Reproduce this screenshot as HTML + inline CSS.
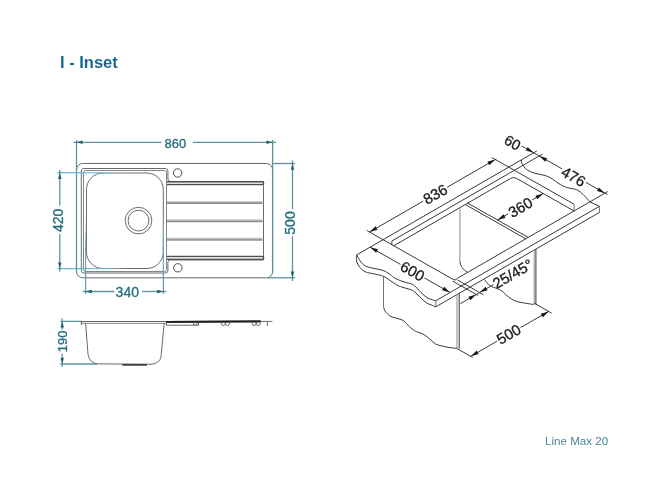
<!DOCTYPE html>
<html><head><meta charset="utf-8"><style>
html,body{margin:0;padding:0;background:#fff;}
body{width:650px;height:500px;overflow:hidden;position:relative;font-family:"Liberation Sans",sans-serif;}
svg{position:absolute;left:0;top:0;will-change:transform;}
.k{stroke:#383838;stroke-width:1;fill:none;}
.k2{stroke:#777;stroke-width:0.8;fill:none;}
.k3{stroke:#707070;stroke-width:1;fill:none;}
.k4{stroke:#a0a0a0;stroke-width:1.2;fill:none;}
.ka{fill:#1a1a1a;stroke:none;}
.g{stroke:#6a6a6a;stroke-width:1;fill:none;}
.g2{stroke:#858585;stroke-width:1;fill:none;}
.gd{stroke:#4a4a4a;stroke-width:1;fill:none;}
.bandl{stroke:#5e5e5e;stroke-width:1.3;fill:none;}
.groove{stroke:#6a6a6a;stroke-width:1.7;fill:none;}
.thick{stroke:#333;stroke-width:1.6;fill:none;}
.sec{stroke:#1e1e1e;stroke-width:1.7;fill:none;}
.b{stroke:#5c939c;stroke-width:1.3;fill:none;}
.bl{stroke:#5fb6d3;stroke-width:1;fill:none;}
.ba{fill:#1b6272;stroke:none;}
.bt{fill:#236b7d;stroke:#236b7d;stroke-width:0.3;}
.kt{fill:#1a1a1a;stroke:#1a1a1a;stroke-width:0.3;}
.title{position:absolute;left:60px;top:53px;font-size:16.5px;font-weight:bold;color:#1b6892;white-space:nowrap;will-change:transform;}
.foot{position:absolute;left:544.5px;top:434px;font-size:11.6px;color:#4a8797;white-space:nowrap;will-change:transform;}
</style></head><body>
<div class="title">I - Inset</div>
<svg width="650" height="500" viewBox="0 0 650 500">
<defs><linearGradient id="gh" x1="0" x2="1" y1="0" y2="0"><stop offset="0" stop-color="#4aa3c4"/><stop offset="0.6" stop-color="#6bbcd8"/><stop offset="1" stop-color="#bfe4f0" stop-opacity="0"/></linearGradient><linearGradient id="gv" x1="0" x2="0" y1="1" y2="0"><stop offset="0" stop-color="#4a8f9e"/><stop offset="0.6" stop-color="#62a9bd"/><stop offset="1" stop-color="#bfe4f0" stop-opacity="0"/></linearGradient><linearGradient id="gg" x1="0" x2="0" y1="0" y2="1"><stop offset="0" stop-color="#d8d8d8"/><stop offset="0.5" stop-color="#a8a8a8"/><stop offset="1" stop-color="#7a7a7a"/></linearGradient></defs>
<rect class="g" x="76.5" y="163.5" width="196.1" height="114.3" rx="6.2"/>
<path class="g" d="M81.3,171.0 L81.3,270.5 Q81.3,273 83.8,273 L165.4,273 Q167.9,273 167.9,270.5 L167.9,262.5 Q167.9,260 170.4,260 L263.5,260 L263.5,181.5 L170.4,181.5 Q167.9,181.5 167.9,179.0 L167.9,171.0 Q167.9,168.5 165.4,168.5 L83.8,168.5 Q81.3,168.5 81.3,171.0 Z"/>
<path class="g2" d="M83.5,172.5 L83.5,269.5 Q83.5,271.5 85.5,271.5 L164.5,271.5 Q166.5,271.5 166.5,269.5 L166.5,172.5 Q166.5,170.5 164.5,170.5 L85.5,170.5 Q83.5,170.5 83.5,172.5 Z"/>
<path d="M167,181.7 H262.2 A1.45,1.45 0 0 1 262.2,184.6 H167" fill="#e2e2e2" stroke="#4e4e4e" stroke-width="1.4"/>
<path d="M167,256.4 H262.2 A1.5,1.5 0 0 1 262.2,259.4 H167" fill="#e2e2e2" stroke="#4e4e4e" stroke-width="1.4"/>
<rect x="167" y="201" width="95.5" height="3" fill="url(#gg)"/>
<rect x="167" y="219.2" width="95.5" height="3" fill="url(#gg)"/>
<rect x="167" y="237.6" width="95.5" height="3" fill="url(#gg)"/>
<rect class="g" x="86.5" y="173" width="76.8" height="95.5" rx="16.5"/>
<circle class="g" cx="138.5" cy="220.6" r="13.3"/>
<circle class="g" cx="138.5" cy="220.6" r="10.4"/>
<circle class="gd" cx="177.6" cy="173" r="4.2"/>
<circle class="gd" cx="177.8" cy="267.8" r="4.2"/>
<line class="b" x1="76.5" y1="140" x2="76.5" y2="271.6"/>
<line class="b" x1="272.6" y1="140" x2="272.6" y2="271.6"/>
<line class="b" x1="73.5" y1="142.3" x2="161.5" y2="142.3"/>
<line class="b" x1="192.8" y1="142.3" x2="276" y2="142.3"/>
<polygon class="ba" points="76.5,142.3 82.7,140.55 82.7,144.05"/>
<polygon class="ba" points="272.6,142.3 266.4,144.05 266.4,140.55"/>
<line class="b" x1="272.6" y1="163.5" x2="295" y2="163.5"/>
<line class="b" x1="267" y1="277.8" x2="295" y2="277.8"/>
<line class="b" x1="292.5" y1="160.5" x2="292.5" y2="209.2"/>
<line class="b" x1="292.5" y1="236.2" x2="292.5" y2="281"/>
<polygon class="ba" points="292.5,163.5 294.25,169.7 290.75,169.7"/>
<polygon class="ba" points="292.5,277.8 290.75,271.6 294.25,271.6"/>
<rect x="57.4" y="172.2" width="70" height="1.1" fill="url(#gh)"/>
<rect x="57.4" y="268.1" width="70" height="1.1" fill="url(#gh)"/>
<line class="b" x1="59.8" y1="170" x2="59.8" y2="205.4"/>
<line class="b" x1="59.8" y1="234" x2="59.8" y2="271.5"/>
<polygon class="ba" points="59.8,172.7 61.55,178.9 58.05,178.9"/>
<polygon class="ba" points="59.8,268.6 58.05,262.4 61.55,262.4"/>
<rect x="85.1" y="212" width="1.1" height="82" fill="url(#gv)"/>
<rect x="162.8" y="214" width="1.1" height="80" fill="url(#gv)"/>
<line class="b" x1="82.7" y1="291.5" x2="114.4" y2="291.5"/>
<line class="b" x1="142.1" y1="291.5" x2="166.5" y2="291.5"/>
<polygon class="ba" points="85.6,291.5 91.8,289.75 91.8,293.25"/>
<polygon class="ba" points="163.3,291.5 157.1,293.25 157.1,289.75"/>
<line class="b" x1="60.4" y1="321.4" x2="82" y2="321.4"/>
<line class="b" x1="60.4" y1="364" x2="97" y2="364"/>
<line class="b" x1="62.2" y1="318.5" x2="62.2" y2="329.7"/>
<line class="b" x1="62.2" y1="353.7" x2="62.2" y2="367"/>
<polygon class="ba" points="62.2,321.4 63.95,327.6 60.45,327.6"/>
<polygon class="ba" points="62.2,364 60.45,357.8 63.95,357.8"/>
<line class="g" x1="80.7" y1="321.5" x2="167" y2="321.5"/>
<line class="g2" x1="82" y1="323.3" x2="166" y2="323.3"/>
<line class="g" x1="81.4" y1="321.4" x2="81.4" y2="325.2"/>
<path class="g" d="M85.6,323 L88,354.3 Q89.5,363.5 98,363.9 L152,364.2 Q159.8,363.2 161,356.8 L164.2,323"/>
<line class="thick" x1="122.3" y1="364.9" x2="147" y2="364.9"/>
<line class="sec" x1="166.6" y1="321.8" x2="260.6" y2="321.4"/>
<line class="g" x1="260.6" y1="321.4" x2="272.4" y2="321.4"/>
<polyline class="g" points="166.5,321.8 166.5,325.2 198.5,325.2 198.5,322.3"/>
<line class="g" x1="267.4" y1="322" x2="267.4" y2="326"/>
<path class="g" d="M193.3,322.4 q0,3.1 1.9,3.1 q1.9,0 1.9,-3.1"/>
<ellipse class="g" cx="223.3" cy="323.4" rx="2" ry="2.1"/>
<ellipse class="g" cx="227.5" cy="323.4" rx="2" ry="2.1"/>
<ellipse class="g" cx="254.1" cy="323.4" rx="2" ry="2.1"/>
<ellipse class="g" cx="258.3" cy="323.4" rx="2" ry="2.1"/>
<line class="sec" x1="166.6" y1="321.8" x2="260.6" y2="321.4"/>
<line class="k" x1="369.58" y1="232.05" x2="423.4" y2="200.99"/><line class="k" x1="447.15" y1="187.28" x2="496.28" y2="158.92"/>
<polygon class="ka" points="369.58,232.05 375.51,226.32 377.51,229.79"/>
<polygon class="ka" points="495.28,159.52 489.35,165.25 487.35,161.79"/>
<line class="k" x1="366.8" y1="230.48" x2="452.7" y2="279.18"/>
<path class="k" d="M452.7,279.18 Q455.2,281.4 457.6,278.16"/>
<line class="k" x1="491.7" y1="157.49" x2="574.2" y2="204.27"/>
<line class="k" x1="356.8" y1="254.83" x2="536.9" y2="150.91"/>
<line class="k" x1="392" y1="240.92" x2="542.4" y2="154.14"/>
<path class="k" d="M392,240.92 Q391.4,242.42 392,244.76"/>
<line class="k" x1="393.5" y1="245.95" x2="510.55" y2="178.41"/>
<path class="k" d="M510.55,178.41 Q513.55,176.68 516.55,178.38"/>
<line class="k" x1="516.55" y1="178.38" x2="574.2" y2="211.07"/>
<line class="k3" x1="574.2" y1="204.27" x2="574.2" y2="211.07"/>
<line class="k" x1="457.6" y1="278.16" x2="607.7" y2="191.56"/>
<line class="k" x1="435.8" y1="300.74" x2="599.4" y2="206.35"/>
<line class="k" x1="435.8" y1="306.84" x2="599.7" y2="212.27"/>
<line class="k3" x1="435.8" y1="300.74" x2="435.8" y2="306.84"/>
<line class="k3" x1="599.5" y1="206.29" x2="599.5" y2="212.39"/>
<line class="k" x1="589.86" y1="201.85" x2="599.4" y2="206.35"/>
<path class="k" d="M521.2,159.97 C521.27,160.41 521.2,161.56 521.6,162.6 C522,163.64 522.6,164.93 523.6,166.2 C524.6,167.47 525.87,169.07 527.6,170.2 C529.33,171.33 531.6,172.23 534,173 C536.4,173.77 539.73,174.23 542,174.8 C544.27,175.37 545.87,175.7 547.6,176.4 C549.33,177.1 550.67,177.9 552.4,179 C554.13,180.1 556.23,181.83 558,183 C559.77,184.17 561.33,185.2 563,186 C564.67,186.8 565.68,187.17 568,187.8 C570.32,188.43 574.38,188.68 576.9,189.8 C579.42,190.92 580.94,192.49 583.1,194.5 C585.26,196.51 588.73,200.63 589.86,201.85"/>
<path class="k" d="M356.8,254.83 C357.07,255.36 357.6,256.67 358.4,258 C359.2,259.33 360.4,261.47 361.6,262.8 C362.8,264.13 363.87,265.13 365.6,266 C367.33,266.87 369.6,267.4 372,268 C374.4,268.6 377.73,269 380,269.6 C382.27,270.2 383.87,270.73 385.6,271.6 C387.33,272.47 388.83,273.7 390.4,274.8 C391.97,275.9 392.9,277.07 395,278.2 C397.1,279.33 400.33,280.67 403,281.6 C405.67,282.53 409,283.03 411,283.8 C413,284.57 413.67,285.1 415,286.2 C416.33,287.3 417.67,289.03 419,290.4 C420.33,291.77 421.67,293.2 423,294.4 C424.33,295.6 425.67,296.77 427,297.6 C428.33,298.43 429.53,298.88 431,299.4 C432.47,299.92 435,300.52 435.8,300.74"/>
<path class="k" d="M356.8,254.83 C356.73,255.27 356.4,256.3 356.4,257.5 C356.4,258.7 356.2,260.32 356.8,262 C357.4,263.68 358.67,266 360,267.6 C361.33,269.2 363.07,270.67 364.8,271.6 C366.53,272.53 368.13,272.67 370.4,273.2 C372.67,273.73 376.13,274.23 378.4,274.8 C380.67,275.37 382.27,275.8 384,276.6 C385.73,277.4 387.2,278.57 388.8,279.6 C390.4,280.63 392.07,281.8 393.6,282.8 C395.13,283.8 396.43,284.83 398,285.6 C399.57,286.37 400.83,286.7 403,287.4 C405.17,288.1 409,289 411,289.8 C413,290.6 413.67,291.17 415,292.2 C416.33,293.23 417.67,294.7 419,296 C420.33,297.3 421.67,298.8 423,300 C424.33,301.2 425.67,302.38 427,303.2 C428.33,304.02 429.53,304.29 431,304.9 C432.47,305.51 435,306.52 435.8,306.84"/>
<line class="k" x1="370.1" y1="247.15" x2="400.53" y2="264.4"/><line class="k" x1="424.38" y1="277.92" x2="450.09" y2="292.5"/>
<polygon class="ka" points="370.1,247.15 378.05,249.36 376.08,252.84"/>
<polygon class="ka" points="450.09,292.5 442.14,290.29 444.11,286.81"/>
<line class="k" x1="521.6" y1="145.95" x2="562.09" y2="168.9"/><line class="k" x1="585.94" y1="182.43" x2="607.4" y2="194.59"/>
<polygon class="ka" points="533.65,152.78 525.71,150.58 527.68,147.1"/>
<polygon class="ka" points="539.25,155.95 547.19,158.16 545.22,161.64"/>
<polygon class="ka" points="604.9,193.18 596.95,190.97 598.92,187.49"/>
<line class="k" x1="497.55" y1="219.91" x2="508.32" y2="213.7"/><line class="k" x1="532.07" y1="199.99" x2="543.27" y2="193.53"/>
<polygon class="ka" points="497.55,219.91 503.48,214.18 505.48,217.65"/>
<polygon class="ka" points="543.27,193.53 537.34,199.26 535.34,195.8"/>
<line class="k" x1="467.74" y1="203.11" x2="528.23" y2="237.41"/>
<line class="k" x1="465.3" y1="204.52" x2="525.79" y2="238.82"/>
<line class="k4" x1="459.9" y1="207.64" x2="459.9" y2="262"/>
<path class="k" d="M459.9,261.5 Q460.4,268 467.6,272.39"/>
<path class="k" d="M484.5,279.6 C485.42,280.63 488,284.35 490,285.8 C492,287.25 494.5,287.43 496.5,288.3 C498.5,289.17 500.47,289.95 502,291 C503.53,292.05 504.17,293.3 505.7,294.6 C507.23,295.9 509.35,297.65 511.2,298.8 C513.05,299.95 514.63,300.8 516.8,301.5 C518.97,302.2 521.4,302.5 524.2,303 C527,303.5 532.03,304.25 533.6,304.5"/>
<line class="k3" x1="383.5" y1="276.2" x2="383.5" y2="306.8"/>
<line class="k4" x1="457" y1="294.61" x2="457" y2="348.2"/>
<line class="k" x1="459.2" y1="293.34" x2="459.2" y2="348.6"/>
<path class="k" d="M383.5,306.8 C383.78,307.53 384.12,309.67 385.2,311.2 C386.28,312.73 388.27,314.87 390,316 C391.73,317.13 393.73,317.4 395.6,318 C397.47,318.6 399.73,319.03 401.2,319.6 C402.67,320.17 403.2,320.4 404.4,321.4 C405.6,322.4 407.07,324.3 408.4,325.6 C409.73,326.9 411.07,328.2 412.4,329.2 C413.73,330.2 415.13,331 416.4,331.6 C417.67,332.2 418.67,332.27 420,332.8 C421.33,333.33 422.73,333.73 424.4,334.8 C426.07,335.87 428.13,337.67 430,339.2 C431.87,340.73 433.6,342.87 435.6,344 C437.6,345.13 439.6,345.4 442,346 C444.4,346.6 447.4,347.2 450,347.6 C452.6,348 456.33,348.27 457.6,348.4"/>
<line class="k4" x1="534.2" y1="250.07" x2="534.2" y2="304.2"/>
<line class="k" x1="535.9" y1="249.09" x2="535.9" y2="304.6"/>
<line class="k" x1="457.4" y1="348.75" x2="472.8" y2="357.48"/>
<line class="k" x1="534" y1="303.08" x2="551.69" y2="313.11"/>
<line class="k" x1="470.8" y1="356.35" x2="496.96" y2="341.26"/><line class="k" x1="520.71" y1="327.55" x2="548.69" y2="311.41"/>
<polygon class="ka" points="470.8,356.35 476.73,350.62 478.73,354.08"/>
<polygon class="ka" points="548.69,311.41 542.76,317.14 540.76,313.67"/>
<line class="k" x1="452.7" y1="281.08" x2="478.1" y2="295.48"/>
<line class="k" x1="457.3" y1="279.89" x2="483.5" y2="294.74"/>
<line class="k" x1="460.4" y1="303.65" x2="493.4" y2="284.61"/>
<polygon class="ka" points="476.31,294.47 470.38,300.2 468.38,296.73"/>
<polygon class="ka" points="479.63,292.55 485.56,286.82 487.56,290.29"/>
<text class="bt" x="175.3" y="143.7" font-size="13" text-anchor="middle" dominant-baseline="central">860</text>
<text class="bt" x="127.3" y="292" font-size="14" text-anchor="middle" dominant-baseline="central">340</text>
<text class="bt" x="58.2" y="220.3" font-size="14" text-anchor="middle" dominant-baseline="central" transform="rotate(-90 58.2 220.3)">420</text>
<text class="bt" x="290" y="223" font-size="14" text-anchor="middle" dominant-baseline="central" transform="rotate(-90 290 223)">500</text>
<text class="bt" x="63" y="341.4" font-size="13" text-anchor="middle" dominant-baseline="central" transform="rotate(-90 63 341.4)">190</text>
<text class="kt" x="435.2" y="194" font-size="15" text-anchor="middle" dominant-baseline="central" transform="rotate(-30 435.2 194)">836</text>
<text class="kt" x="412.6" y="270.9" font-size="15" text-anchor="middle" dominant-baseline="central" transform="rotate(30 412.6 270.9)">600</text>
<text class="kt" x="512.6" y="142.6" font-size="14.5" text-anchor="middle" dominant-baseline="central" transform="rotate(30 512.6 142.6)">60</text>
<text class="kt" x="573.6" y="176.4" font-size="15" text-anchor="middle" dominant-baseline="central" transform="rotate(30 573.6 176.4)">476</text>
<text class="kt" x="520.4" y="207.2" font-size="15" text-anchor="middle" dominant-baseline="central" transform="rotate(-30 520.4 207.2)">360</text>
<text class="kt" x="512.6" y="273.6" font-size="15" text-anchor="middle" dominant-baseline="central" transform="rotate(-30 512.6 273.6)">25/45°</text>
<text class="kt" x="508.6" y="334" font-size="15" text-anchor="middle" dominant-baseline="central" transform="rotate(-30 508.6 334)">500</text>
</svg>
<div class="foot">Line Max 20</div>
</body></html>
